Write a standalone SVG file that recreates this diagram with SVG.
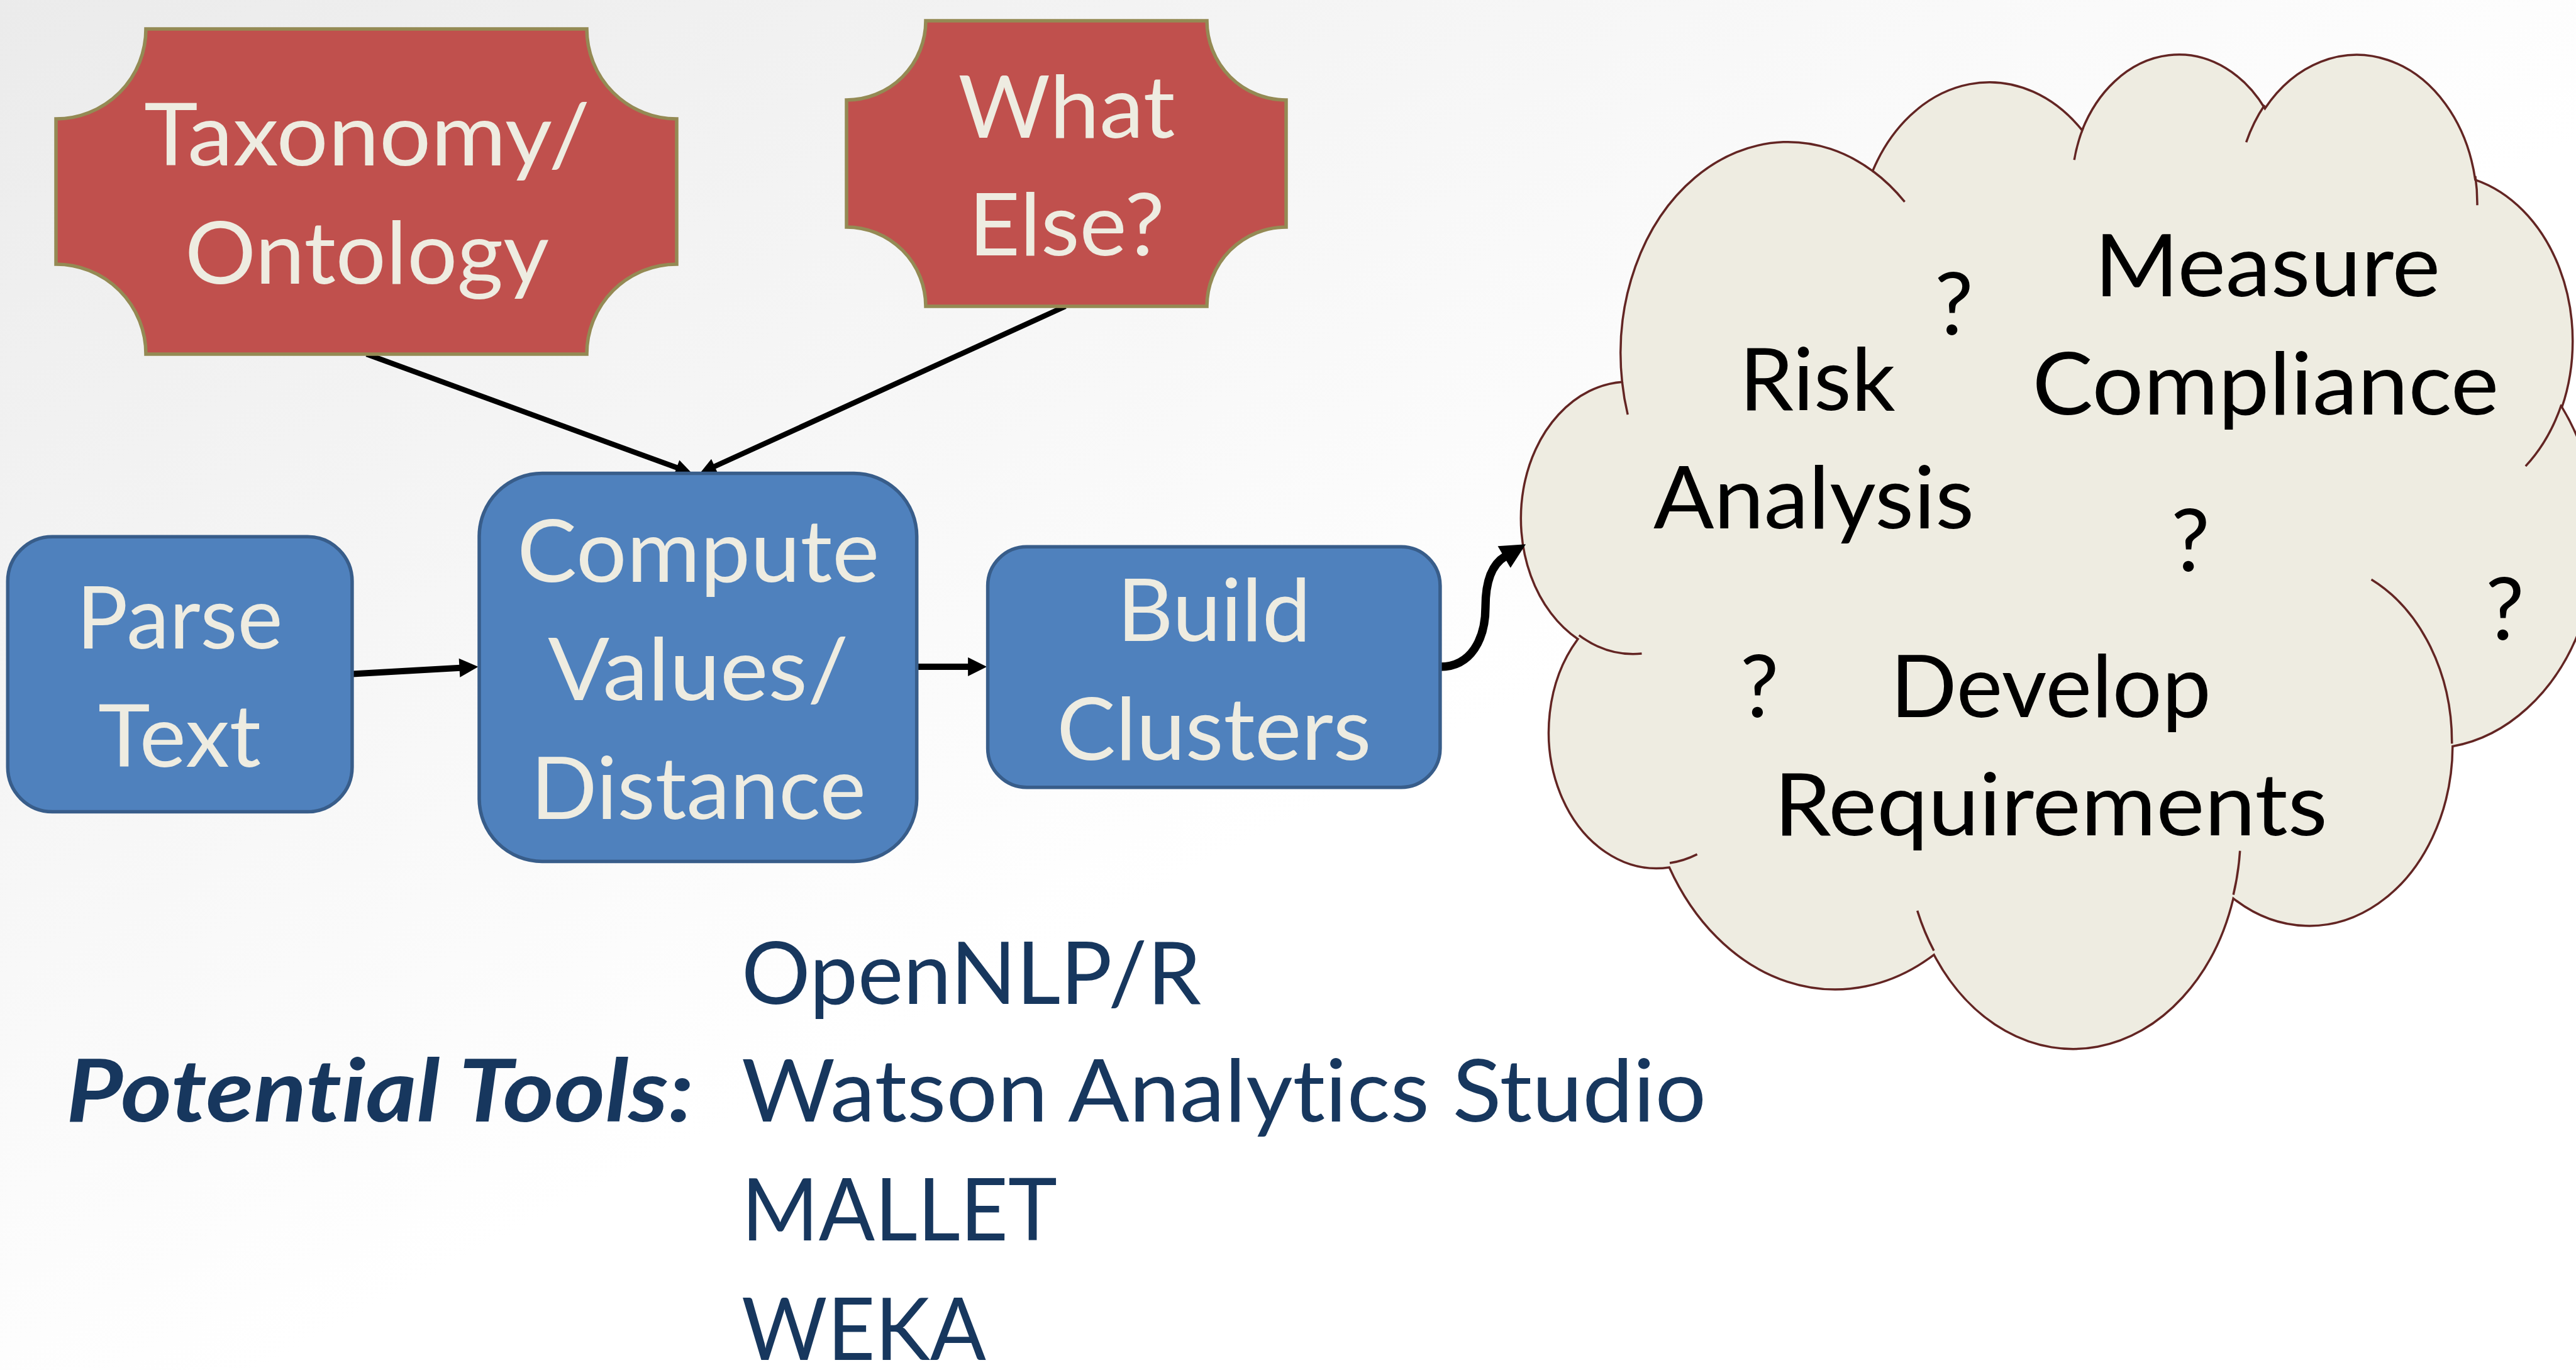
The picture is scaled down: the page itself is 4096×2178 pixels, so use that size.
<svg xmlns="http://www.w3.org/2000/svg" width="4096" height="2178" viewBox="0 0 4096 2178">
<defs>
<linearGradient id="bg" x1="0" y1="0" x2="1" y2="1">
<stop offset="0" stop-color="#EBEBEB"/>
<stop offset="0.55" stop-color="#FFFFFF"/>
<stop offset="1" stop-color="#FFFFFF"/>
</linearGradient>
<marker id="ah" markerWidth="3" markerHeight="3" refX="0.15" refY="1.5" orient="auto" markerUnits="strokeWidth" overflow="visible">
<path d="M0,0 L3,1.5 L0,3 z" fill="#000"/>
</marker>
<style>
text{font-family:Lato,"Open Sans",sans-serif;font-size:138px;font-variant-ligatures:none;font-feature-settings:"liga" 0,"clig" 0}
.plaque{fill:#C0504D;stroke:#948A54;stroke-width:5.5}
.box{fill:#4F81BD;stroke:#385D8A;stroke-width:5.5}
.nt{fill:#EEECE1;text-anchor:middle}
.ct{fill:#000;text-anchor:middle}
.tt{fill:#17375E}
.bi{font-weight:bold;font-style:italic}
.cl{fill:#EEECE1;stroke:#632523;stroke-width:3.5}
.ci{fill:none;stroke:#632523;stroke-width:3.5}
.cn{fill:none;stroke:#000}
</style>
</defs>
<rect x="0" y="0" width="4096" height="2178" fill="url(#bg)"/>

<g id="cloud">
<path class="cl" d="M 2579.3 607.2 A 266.1 336.1 0 0 1 2977.6 271.9 A 210.2 265.8 0 0 1 3310.7 207.2 A 172.0 217.4 0 0 1 3601.4 172.5 A 191.4 241.2 0 0 1 3935.8 285.8 A 210.2 266.0 0 0 1 4073.7 647.3 A 267.0 337.2 0 0 1 3899.8 1186.5 A 228.0 287.7 0 0 1 3551.1 1428.3 A 266.1 337.0 0 0 1 3075.1 1517.8 A 304.2 385.6 0 0 1 2654.3 1379.0 A 171.8 216.5 0 0 1 2508.9 1016.0 A 171.2 217.4 0 0 1 2579.3 607.2 Z"/>
<path class="ci" d="M 2610.5 1039.1 A 171.2 217.4 0 0 1 2510.7 1009.9 M 2698.6 1358.1 A 171.8 216.5 0 0 1 2655.0 1372.0 M 3075.0 1511.4 A 266.1 337.0 0 0 1 3048.7 1447.8 M 3561.7 1352.7 A 266.1 337.0 0 0 1 3551.2 1422.5 M 3770.6 921.2 A 228.0 287.7 0 0 1 3898.7 1182.2 M 4072.9 643.2 A 210.2 266.0 0 0 1 4015.8 741.1 M 3935.9 280.1 A 191.4 241.2 0 0 1 3939.0 326.3 M 3571.6 226.1 A 191.4 241.2 0 0 1 3600.9 167.1 M 3298.2 254.2 A 172.0 217.4 0 0 1 3312.3 203.4 M 2977.3 271.5 A 266.1 336.1 0 0 1 3028.6 320.9 M 2588.2 659.1 A 266.1 336.1 0 0 1 2579.3 607.2"/>
<text class="ct" x="3605.3" y="470.7" textLength="550" lengthAdjust="spacingAndGlyphs">Measure</text>
<text class="ct" x="3602.4" y="658.6" textLength="742" lengthAdjust="spacingAndGlyphs">Compliance</text>
<text class="ct" x="2889.7" y="652.0" textLength="248" lengthAdjust="spacingAndGlyphs">Risk</text>
<text class="ct" x="2884.0" y="839.9" textLength="510" lengthAdjust="spacingAndGlyphs">Analysis</text>
<text class="ct" x="3107.0" y="532.4">?</text>
<text class="ct" x="3482.8" y="908.2">?</text>
<text class="ct" x="3983.0" y="1017.3">?</text>
<text class="ct" x="2797.7" y="1139.7">?</text>
<text class="ct" x="3260.8" y="1139.7" textLength="510" lengthAdjust="spacingAndGlyphs">Develop</text>
<text class="ct" x="3260.8" y="1327.7" textLength="880" lengthAdjust="spacingAndGlyphs">Requirements</text>
</g>

<g id="connectors">
<path class="cn" stroke-width="10" marker-end="url(#ah)" d="M 560 1071.4 L 732.0 1061.7"/>
<path class="cn" stroke-width="10" marker-end="url(#ah)" d="M 1457.7 1060 L 1540.6 1060"/>
<path class="cn" stroke-width="8.5" marker-end="url(#ah)" d="M 583 563 L 1077.1 743.8"/>
<path class="cn" stroke-width="8.5" marker-end="url(#ah)" d="M 1694 487 L 1135.2 742.0"/>
<path class="cn" stroke-width="13.3" marker-end="url(#ah)" d="M 2290 1060 C 2339.3 1060 2362 1015.4 2362 965.1 C 2362 925.3 2372.5 896.8 2393.4 884.5"/>
</g>

<g id="taxonomy">
<path class="plaque" d="M 232 46 H 933 A 143 143 0 0 0 1076 189 V 420 A 143 143 0 0 0 933 563 H 232 A 143 143 0 0 0 89 420 V 189 A 143 143 0 0 0 232 46 Z"/>
<text class="nt" x="583.6" y="262.9" textLength="709" lengthAdjust="spacingAndGlyphs">Taxonomy/</text>
<text class="nt" x="583.6" y="450.8" textLength="579" lengthAdjust="spacingAndGlyphs">Ontology</text>
</g>

<g id="what-else">
<path class="plaque" d="M 1472 33 H 1919 A 126 126 0 0 0 2045 159 V 361 A 126 126 0 0 0 1919 487 H 1472 A 126 126 0 0 0 1346 361 V 159 A 126 126 0 0 0 1472 33 Z"/>
<text class="nt" x="1695.9" y="219.2" textLength="345" lengthAdjust="spacingAndGlyphs">What</text>
<text class="nt" x="1695.9" y="406.2" textLength="312" lengthAdjust="spacingAndGlyphs">Else?</text>
</g>

<g id="parse-text">
<rect class="box" x="12.3" y="853.2" width="547.6" height="437.4" rx="71" ry="71"/>
<text class="nt" x="285.6" y="1030.6" textLength="328" lengthAdjust="spacingAndGlyphs">Parse</text>
<text class="nt" x="285.6" y="1218.5" textLength="259" lengthAdjust="spacingAndGlyphs">Text</text>
</g>

<g id="compute">
<rect class="box" x="762" y="752.6" width="695.7" height="616.8" rx="100" ry="100"/>
<text class="nt" x="1110.3" y="925.3" textLength="576" lengthAdjust="spacingAndGlyphs">Compute</text>
<text class="nt" x="1110.3" y="1113.2" textLength="478" lengthAdjust="spacingAndGlyphs">Values/</text>
<text class="nt" x="1110.3" y="1302.0" textLength="533" lengthAdjust="spacingAndGlyphs">Distance</text>
</g>

<g id="build-clusters">
<rect class="box" x="1570.6" y="869.3" width="719.3" height="382.4" rx="62" ry="62"/>
<text class="nt" x="1930.3" y="1019.2" textLength="308" lengthAdjust="spacingAndGlyphs">Build</text>
<text class="nt" x="1930.3" y="1208.1" textLength="500" lengthAdjust="spacingAndGlyphs">Clusters</text>
</g>

<g id="tools">
<text class="tt bi" x="105" y="1783.2" textLength="998" lengthAdjust="spacingAndGlyphs">Potential Tools:</text>
<text class="tt" x="1179" y="1596.2" textLength="731" lengthAdjust="spacingAndGlyphs">OpenNLP/R</text>
<text class="tt" x="1179" y="1783.2" textLength="1534" lengthAdjust="spacingAndGlyphs">Watson Analytics Studio</text>
<text class="tt" x="1179" y="1972.0" textLength="502" lengthAdjust="spacingAndGlyphs">MALLET</text>
<text class="tt" x="1179" y="2161.8" textLength="389" lengthAdjust="spacingAndGlyphs">WEKA</text>
</g>
</svg>
